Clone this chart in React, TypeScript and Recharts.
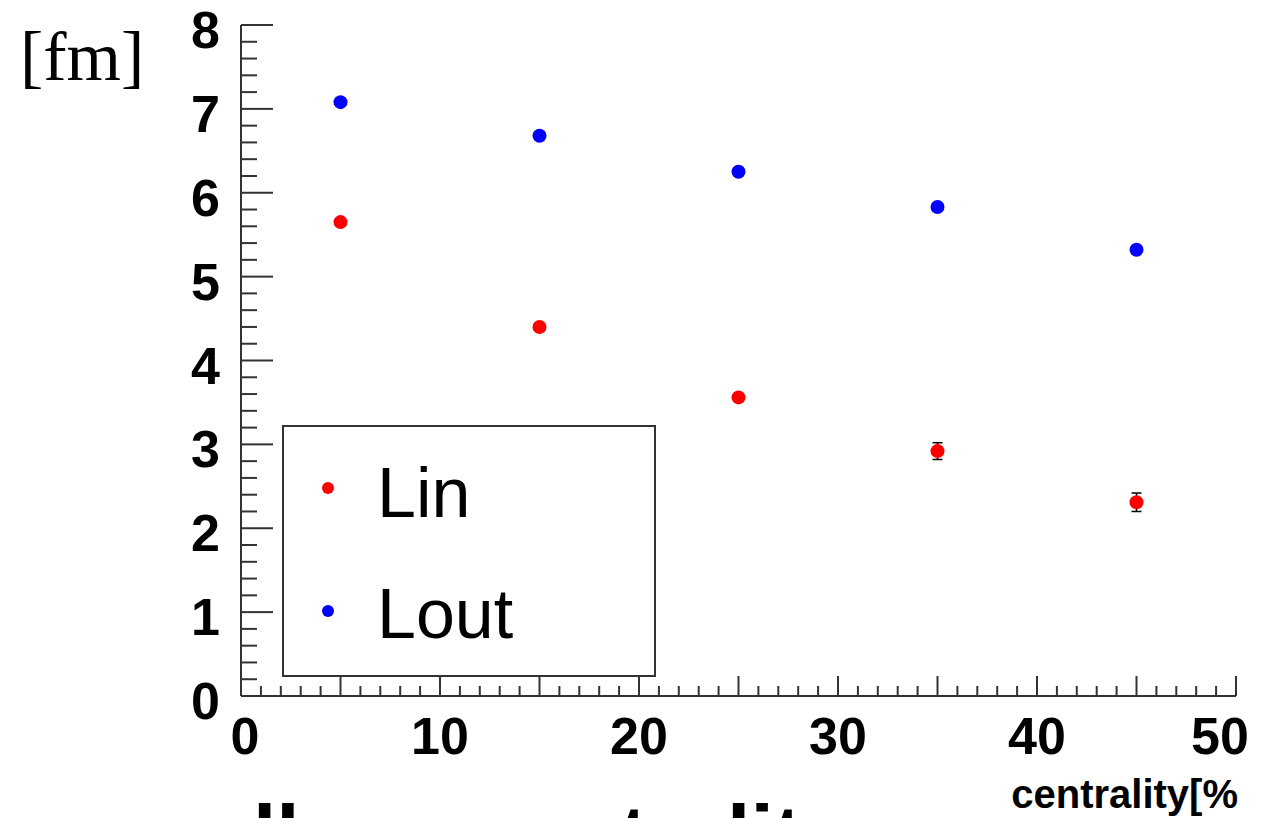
import {
  ScatterChart,
  Scatter,
  XAxis,
  YAxis,
  ErrorBar,
  Legend,
} from "recharts";

const centrality = [5, 15, 25, 35, 45];
const linValues = [5.65, 4.4, 3.56, 2.92, 2.31];
// errors on the first three points are hidden under the markers
const linErrors = [null, null, null, 0.1, 0.11];
const loutValues = [7.08, 6.68, 6.25, 5.83, 5.32];

const xTicks = Array.from({ length: 51 }, (_, i) => i);
const yTicks = Array.from({ length: 41 }, (_, i) => (i * 2) / 10);

const linData = centrality.map((x, i) => ({ x, y: linValues[i], err: linErrors[i] }));
const loutData = centrality.map((x, i) => ({ x, y: loutValues[i] }));

const frame = "#333";
const labelFont = "'Liberation Sans', Arial, sans-serif";

const YTick = ({ x, y, payload }: any) => {
  const v = payload.value;
  const major = Math.abs(v - Math.round(v)) < 1e-6;
  return (
    <g>
      <line x1={x} x2={x + (major ? 32 : 16)} y1={y} y2={y} stroke={frame} strokeWidth={2} />
      {major && (
        <text
          x={x - 21}
          y={y + 5}
          textAnchor="end"
          dominantBaseline="central"
          fontSize={52}
          fontWeight={700}
          fontFamily={labelFont}
          fill="#000"
        >
          {Math.round(v)}
        </text>
      )}
    </g>
  );
};

const XTick = ({ x, y, payload }: any) => {
  const v = payload.value;
  const len = v % 5 === 0 ? 20 : 10;
  const shift = v === 50 ? -16 : v === 0 ? 4 : 0;
  return (
    <g>
      <line x1={x} x2={x} y1={y} y2={y - len} stroke={frame} strokeWidth={2} />
      {v % 10 === 0 && (
        <text
          x={x + shift}
          y={y + 40}
          textAnchor="middle"
          dominantBaseline="central"
          fontSize={52}
          fontWeight={700}
          fontFamily={labelFont}
          fill="#000"
        >
          {v}
        </text>
      )}
    </g>
  );
};

const dot = (color: string) => (props: any) =>
  <circle cx={props.cx} cy={props.cy} r={7} fill={color} />;

const LegendBox = () => (
  <svg width={374} height={252} style={{ display: "block" }}>
    <rect x={1} y={1} width={372} height={250} fill="#fff" stroke={frame} strokeWidth={2} />
    <circle cx={46} cy={63} r={6} fill="#ff0000" />
    <text x={95} y={92} fontSize={70} fontFamily={labelFont} fill="#000">
      Lin
    </text>
    <circle cx={46} cy={186} r={6} fill="#0000ff" />
    <text x={95} y={213} fontSize={70} fontFamily={labelFont} fill="#000">
      Lout
    </text>
  </svg>
);

export default function App() {
  return (
    <ScatterChart
      width={1245}
      height={810}
      margin={{ top: 17, right: 17, bottom: 0, left: 0 }}
      style={{ background: "#fff" }}
    >
      <XAxis
        xAxisId="b"
        type="number"
        dataKey="x"
        domain={[0, 50]}
        ticks={xTicks}
        interval={0}
        height={122}
        tickSize={0}
        tickMargin={0}
        tickLine={false}
        tick={<XTick />}
        axisLine={{ stroke: frame, strokeWidth: 2 }}
      />
      <XAxis
        xAxisId="t"
        orientation="top"
        type="number"
        dataKey="x"
        domain={[0, 50]}
        height={0}
        tick={false}
        tickLine={false}
        axisLine={{ stroke: frame, strokeWidth: 2 }}
      />
      <YAxis
        yAxisId="l"
        type="number"
        dataKey="y"
        domain={[0, 8]}
        ticks={yTicks}
        interval={0}
        width={233}
        tickSize={0}
        tickMargin={0}
        tickLine={false}
        tick={<YTick />}
        axisLine={{ stroke: frame, strokeWidth: 2 }}
      />
      <YAxis
        yAxisId="r"
        orientation="right"
        type="number"
        dataKey="y"
        domain={[0, 8]}
        width={0}
        tick={false}
        tickLine={false}
        axisLine={{ stroke: frame, strokeWidth: 2 }}
      />
      <Legend
        layout="horizontal"
        verticalAlign="middle"
        align="center"
        content={() => <LegendBox />}
        wrapperStyle={{ position: "absolute", left: 274, top: 417, width: 374, height: 252 }}
      />
      <Scatter
        name="Lin"
        data={linData}
        xAxisId="b"
        yAxisId="l"
        fill="#ff0000"
        shape={dot("#ff0000")}
        isAnimationActive={false}
      >
        <ErrorBar dataKey="err" direction="y" width={5} stroke="#000" strokeWidth={1.5} />
      </Scatter>
      <Scatter
        name="Lout"
        data={loutData}
        xAxisId="b"
        yAxisId="l"
        fill="#0000ff"
        shape={dot("#0000ff")}
        isAnimationActive={false}
      />
      <text x={12} y={72} fontSize={70} fontFamily="'Liberation Serif', 'Times New Roman', serif" fill="#000">
        [fm]
      </text>
      <text x={1230} y={800} textAnchor="end" fontSize={40} fontWeight={700} fontFamily={labelFont} fill="#000">
        centrality[%
      </text>
      <text x={245} y={856} fontSize={84} fontWeight={700} fontFamily={labelFont} fill="#000">
        ll
      </text>
      <text x={467} y={856} fontSize={84} fontWeight={700} fontFamily={labelFont} fill="#000">
        centrality
      </text>
    </ScatterChart>
  );
}
